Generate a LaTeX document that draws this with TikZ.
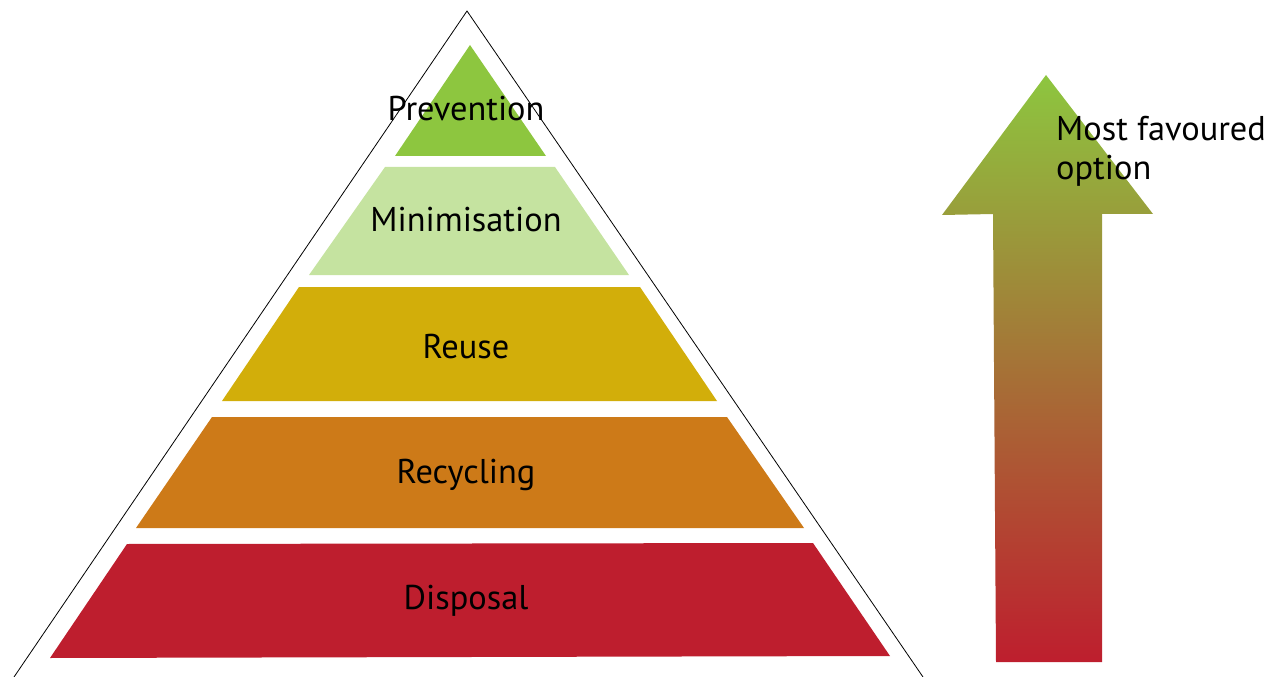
\documentclass[tikz,border=0pt]{standalone}
\usepackage{fontspec}
\setmainfont{PT Sans}
\definecolor{cPrev}{HTML}{8DC63F}
\definecolor{cMini}{HTML}{C5E3A0}
\definecolor{cReuse}{HTML}{D2AE0A}
\definecolor{cRecy}{HTML}{CD7A18}
\definecolor{cDisp}{HTML}{BE1E2E}
\tikzset{
  tier/.style={draw=none},
  lbl/.style={anchor=base, inner sep=0pt, font=\fontsize{34.5}{40}\selectfont, text=black},
  outline/.style={draw=black, line width=0.8bp},
}
\begin{document}
\begin{tikzpicture}[x=1bp,y=-1bp]
\useasboundingbox (0,0) rectangle (1266,677);
% outer triangle
\coordinate (apex) at (467,11);
\coordinate (bl) at (14,677);
\coordinate (br) at (923,677);
\draw[outline] (bl) -- (apex) -- (br);
% tiers
\fill[tier, cPrev] (470,45) -- (546,156) -- (395,156) -- cycle;
\fill[tier, cMini] (385,167) -- (555,167) -- (629,275) -- (309,275) -- cycle;
\fill[tier, cReuse] (299,287) -- (640,287) -- (717,401) -- (222,401) -- cycle;
\fill[tier, cRecy] (212,417) -- (727,417) -- (804,528) -- (136,528) -- cycle;
\fill[tier, cDisp] (127,544) -- (813,543) -- (890,656) -- (50,658) -- cycle;
% labels
\node[lbl] (prev) at (466,121) {Prevention};
\node[lbl] (mini) at (466,232) {Minimisation};
\node[lbl] (reuse) at (466,358) {Reuse};
\node[lbl] (recy) at (466,483) {Recycling};
\node[lbl] (disp) at (466,609) {Disposal};
% arrow
\shade[top color=cPrev, bottom color=cDisp]
  (1046,75) -- (1153,214) -- (1102,214) -- (1102,662) -- (996,662) -- (993,214) -- (942,215) -- cycle;
\node[lbl, anchor=base west, align=left] (fav) at (1056,180) {Most favoured\\option};
\end{tikzpicture}
\end{document}
